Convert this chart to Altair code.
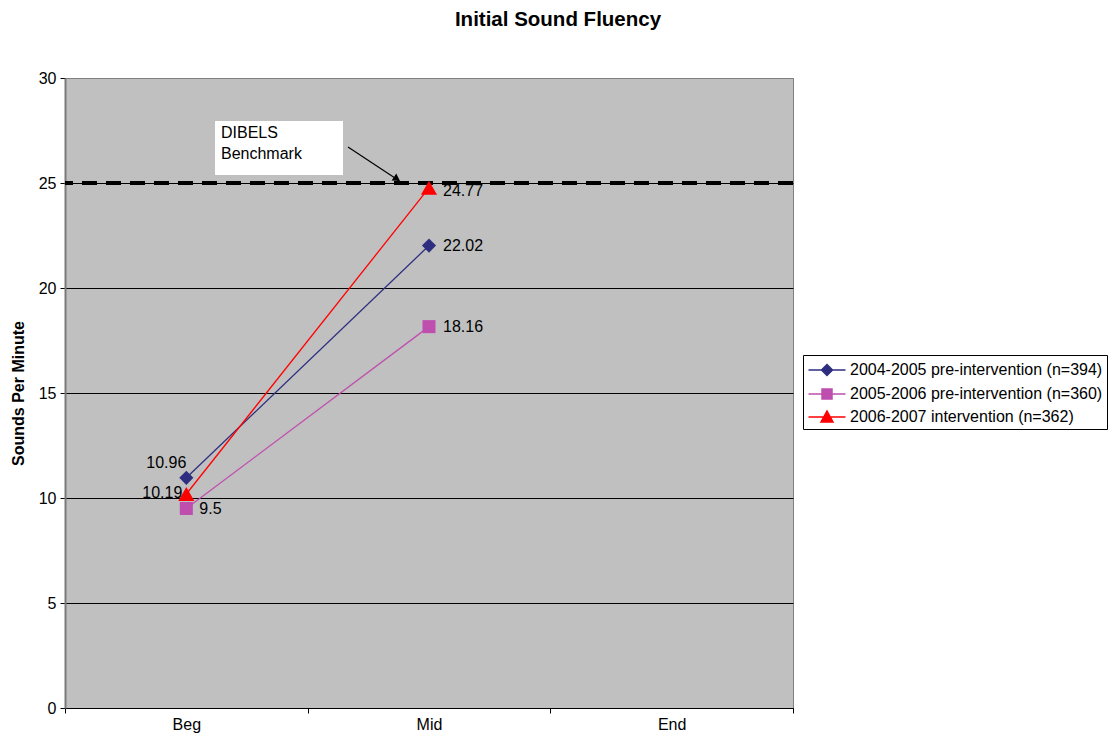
import altair as alt
import pandas as pd

# ---------------- data ----------------
periods = ["Beg", "Mid", "End"]
series_names = [
    "2004-2005 pre-intervention (n=394)",
    "2005-2006 pre-intervention (n=360)",
    "2006-2007 intervention (n=362)",
]
values_0405 = [10.96, 22.02, None]
values_0506 = [9.5, 18.16, None]
values_0607 = [10.19, 24.77, None]
benchmark = [25]
y_ticks = [0, 5, 10, 15, 20, 25, 30]
annotation_lines = ["DIBELS", "Benchmark"]
title_text = "Initial Sound Fluency"
y_title = "Sounds Per Minute"

# ---------------- styles ----------------
FONT = "Liberation Sans"
colors = ["#2E2E80", "#BF4FAF", "#FF0000"]
shapes = ["diamond", "square", "triangle-up"]
sizes = [200, 170, 260]
legend_paths = [
    "M-1.85,0L1.85,0M0,-0.55L0.55,0L0,0.55L-0.55,0Z",
    "M-1.85,0L1.85,0M-0.5,-0.5L0.5,-0.5L0.5,0.5L-0.5,0.5Z",
    "M-1.85,0L1.85,0M0,-0.6L0.6,0.5L-0.6,0.5Z",
]

rows = []
for name, vals in zip(series_names, [values_0405, values_0506, values_0607]):
    for p, v in zip(periods, vals):
        if v is not None:
            rows.append({"series": name, "period": p, "value": v, "label": f"{v:g}"})
df = pd.DataFrame(rows)

X = alt.X(
    "period:N",
    sort=periods,
    scale=alt.Scale(type="band", domain=periods, paddingInner=0, paddingOuter=0),
    axis=alt.Axis(
        title=None, labelAngle=0, tickBand="extent", grid=False,
        domainColor="black", tickColor="black", tickSize=5,
        labelFontSize=16, labelPadding=3, labelColor="black", labelFont=FONT,
    ),
)
Y = alt.Y(
    "value:Q",
    scale=alt.Scale(domain=[0, 30], nice=False),
    axis=alt.Axis(
        values=y_ticks, title=y_title, grid=True,
        gridColor={"condition": {"test": "datum.value === 30", "value": "#808080"}, "value": "black"},
        gridWidth=1,
        domainColor="#7a7a7a", domainWidth=2, tickColor="black", tickSize=5,
        labelFontSize=16, labelPadding=4, labelColor="black", labelFont=FONT,
        titleFontSize=16, titleFont=FONT, titleFontWeight="bold", titleColor="black",
        titlePadding=12,
    ),
)

leg = alt.Legend(
    orient="none", legendX=738, legendY=277, title=None,
    fillColor="white", strokeColor="black", padding=4,
    labelFontSize=16, labelFont=FONT, labelColor="black", labelLimit=600,
    symbolSize=400, symbolStrokeWidth=1.5, symbolOffset=9, labelOffset=12, rowPadding=4,
)

lines = alt.Chart(df).mark_line(strokeWidth=1.3).encode(
    x=X, y=Y,
    color=alt.Color("series:N", scale=alt.Scale(domain=series_names, range=colors), legend=leg),
)

bench = alt.Chart(pd.DataFrame({"b": benchmark})).mark_rule(
    color="black", strokeWidth=4, strokeDash=[15, 9]
).encode(y=alt.Y("b:Q"))

point_layers = []
for i, name in enumerate(series_names):
    point_layers.append(
        alt.Chart(df).transform_filter(alt.datum.series == name).mark_point(
            shape=shapes[i], filled=True, size=sizes[i], opacity=1, color=colors[i]
        ).encode(x=X, y=Y)
    )


def point_label(series_idx, period, dx, dy, align):
    return alt.Chart(df).transform_filter(
        (alt.datum.series == series_names[series_idx]) & (alt.datum.period == period)
    ).mark_text(
        align=align, baseline="middle", dx=dx, dy=dy, fontSize=16, font=FONT, color="black"
    ).encode(x=X, y=Y, text="label:N")


labels = [
    point_label(0, "Beg", 0, -15, "right"),
    point_label(2, "Beg", -4, -1, "right"),
    point_label(1, "Beg", 13, 0, "left"),
    point_label(0, "Mid", 14, 0, "left"),
    point_label(1, "Mid", 14, 0, "left"),
    point_label(2, "Mid", 14, 3, "left"),
]

one = pd.DataFrame({"k": [0]})
box = alt.Chart(one).mark_rect(fill="white").encode(
    x=alt.value(150), x2=alt.value(278), y=alt.value(43), y2=alt.value(97)
)
box_text = alt.Chart(one).mark_text(
    text=annotation_lines, align="left", baseline="top", fontSize=16, font=FONT,
    lineHeight=21, color="black"
).encode(x=alt.value(156), y=alt.value(47))
arrow = alt.Chart(one).mark_rule(color="black", strokeWidth=1.2).encode(
    x=alt.value(283), y=alt.value(69), x2=alt.value(333), y2=alt.value(102)
)
arrow_head = alt.Chart(one).mark_point(
    shape="triangle-right", filled=True, color="black", opacity=1, size=70, angle=33
).encode(x=alt.value(332), y=alt.value(101))

# invisible layer that only feeds the legend symbols (line + marker)
legend_layer = alt.Chart(df).mark_point(filled=True, opacity=1, size=0).encode(
    x=X, y=Y,
    fill=alt.Fill("series:N", scale=alt.Scale(domain=series_names, range=colors), legend=leg),
    stroke=alt.Stroke("series:N", scale=alt.Scale(domain=series_names, range=colors), legend=leg),
    shape=alt.Shape("series:N", scale=alt.Scale(domain=series_names, range=legend_paths), legend=leg),
)

chart = alt.layer(
    lines, bench, *point_layers, *labels, box, box_text, arrow, arrow_head, legend_layer
).properties(
    width=728, height=630,
    title=alt.TitleParams(
        text=title_text, font=FONT, fontSize=20.5, fontWeight="bold", color="black",
        anchor="middle", frame="group", dx=129, offset=40,
    ),
    autosize=alt.AutoSizeParams(type="none"),
    padding={"left": 57, "top": 70, "right": 316, "bottom": 26},
).configure(background="white").configure_view(fill="#C0C0C0", stroke="#808080", strokeWidth=1)

chart.save("out.html", embed_options={"renderer": "svg", "actions": False})
